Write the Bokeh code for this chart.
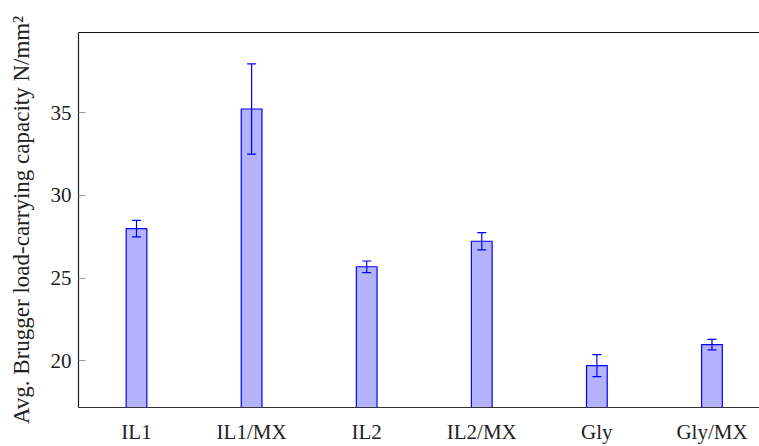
from bokeh.plotting import figure
from bokeh.models import Range1d, FixedTicker, LinearAxis, Whisker, TeeHead, ColumnDataSource
from bokeh.embed import file_html
from bokeh.resources import INLINE

categories = ["IL1", "IL1/MX", "IL2", "IL2/MX", "Gly", "Gly/MX"]
means = [27.99, 35.22, 25.69, 27.23, 19.72, 20.99]
errors = [0.50, 2.73, 0.35, 0.52, 0.66, 0.32]
y_ticks = [20, 25, 30, 35]

xs = list(range(len(categories)))
src = ColumnDataSource(dict(
    x=xs, top=means,
    upper=[m + e for m, e in zip(means, errors)],
    lower=[m - e for m, e in zip(means, errors)],
))

FONT = "Liberation Serif"

p = figure(width=759, height=446, output_backend="svg", toolbar_location=None,
           x_range=Range1d(-0.504, 5.413), y_range=Range1d(17.19, 39.84),
           min_border_left=78, min_border_right=0, min_border_top=32, min_border_bottom=38)
p.outline_line_color = None
p.grid.visible = False
p.background_fill_color = "white"
p.border_fill_color = "white"

p.vbar(x="x", top="top", bottom=p.y_range.start, width=0.18, source=src,
       fill_color="#b3b3ff", line_color="#0000ff", line_width=1.2)
w = Whisker(base="x", upper="upper", lower="lower", source=src, level="overlay",
            line_color="#0000ff", line_width=1.2,
            upper_head=TeeHead(size=9, line_color="#0000ff", line_width=1.2),
            lower_head=TeeHead(size=9, line_color="#0000ff", line_width=1.2))
p.add_layout(w)

# x axis
xa = p.xaxis[0]
xa.ticker = FixedTicker(ticks=xs)
xa.major_label_overrides = {i: c for i, c in enumerate(categories)}
xa.major_tick_line_color = None
xa.minor_tick_line_color = None
xa.axis_line_color = "#333333"
xa.axis_line_width = 1.2
xa.major_label_text_font = FONT
xa.major_label_text_font_size = "21px"
xa.major_label_text_color = "#222222"
xa.major_label_standoff = 6

# y axis
ya = p.yaxis[0]
ya.ticker = FixedTicker(ticks=y_ticks)
ya.major_tick_in = 7
ya.major_tick_out = 0
ya.major_tick_line_color = "#999999"
ya.minor_tick_line_color = None
ya.axis_line_color = "#222222"
ya.axis_line_width = 1.2
ya.major_label_text_font = FONT
ya.major_label_text_font_size = "21px"
ya.major_label_text_color = "#222222"
ya.major_label_standoff = 7
ya.axis_label = "Avg. Brugger load-carrying capacity N/mm\u00b2"
ya.axis_label_text_font = FONT
ya.axis_label_text_font_size = "23px"
ya.axis_label_text_font_style = "normal"
ya.axis_label_text_color = "#222222"
ya.axis_label_standoff = 14

# top frame line
top = LinearAxis(ticker=FixedTicker(ticks=[]), axis_line_color="#111111", axis_line_width=1.2,
                 major_tick_line_color=None, minor_tick_line_color=None,
                 major_label_text_font_size="0px")
p.add_layout(top, "above")

open("out.html", "w").write(file_html(p, INLINE))
